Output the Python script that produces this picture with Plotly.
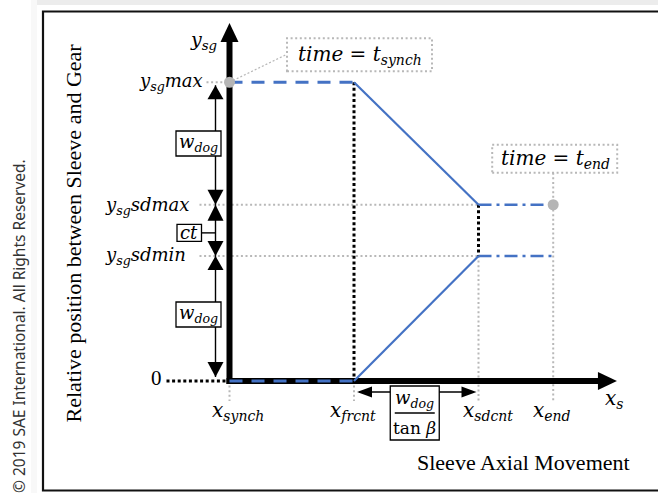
import plotly.graph_objects as go

W, H = 658, 493

# ---------------- data (diagram levels, in model units) ----------------
x_names = ["synch", "frcnt", "sdcnt", "end"]
x_pos = [0.0, 1.0, 2.0, 2.6]                 # sleeve axial positions
y_names = ["0", "sdmin", "sdmax", "max"]
y_pos = [0.0, 1.0, 1.41, 2.39]               # relative sleeve/gear positions
axis_x_tip = 3.112
axis_y_tip = 2.864

# blue profile (upper and lower edge)
upper_x = [0.0, 1.0, 2.0, 2.6]
upper_y = [2.39, 2.39, 1.41, 1.41]
lower_x = [0.0, 1.0, 2.0, 2.6]
lower_y = [0.0, 0.0, 1.0, 1.0]

x_tick_labels = ["<i>x</i><sub><i>synch</i></sub>", "<i>x</i><sub><i>frcnt</i></sub>",
                 "<i>x</i><sub><i>sdcnt</i></sub>", "<i>x</i><sub><i>end</i></sub>"]
y_tick_labels = ["0", "<i>y</i><sub><i>sg</i></sub><i>sdmin</i>",
                 "<i>y</i><sub><i>sg</i></sub><i>sdmax</i>", "<i>y</i><sub><i>sg</i></sub><i>max</i>"]

# ---------------- scale (pixels per unit) ----------------
SX, SY = 124.5, 125.0
OX, OY = 229.5, 381.0
xr = [-OX / SX, (W - OX) / SX]
yr = [-(H - OY) / SY, OY / SY]


def ox(p):
    return p / SX


def oy(p):
    return p / SY


x_synch, x_frcnt, x_sdcnt, x_end = x_pos
y0, y_sdmin, y_sdmax, y_max = y_pos

BLUE = "#4472C4"
GRAY = "#b8b8b8"
MATH = "DejaVu Serif"
SERIF = "Liberation Serif"
shapes = []


def line(x0, yy0, x1, yy1, color="black", width=1.5, dash=None, layer="below"):
    shapes.append(dict(type="line", x0=x0, y0=yy0, x1=x1, y1=yy1, layer=layer,
                       line=dict(color=color, width=width, dash=dash)))


def rect(x0, yy0, x1, yy1, lc="black", lw=1.3, fill="white", dash=None, layer="below"):
    shapes.append(dict(type="rect", x0=x0, y0=yy0, x1=x1, y1=yy1, layer=layer,
                       fillcolor=fill, line=dict(color=lc, width=lw, dash=dash)))


def tri(tx, ty, direction, length_px, width_px):
    if direction == "up":
        pts = [(tx, ty), (tx - ox(width_px / 2), ty - oy(length_px)), (tx + ox(width_px / 2), ty - oy(length_px))]
    elif direction == "down":
        pts = [(tx, ty), (tx - ox(width_px / 2), ty + oy(length_px)), (tx + ox(width_px / 2), ty + oy(length_px))]
    elif direction == "right":
        pts = [(tx, ty), (tx - ox(length_px), ty + oy(width_px / 2)), (tx - ox(length_px), ty - oy(width_px / 2))]
    else:
        pts = [(tx, ty), (tx + ox(length_px), ty + oy(width_px / 2)), (tx + ox(length_px), ty - oy(width_px / 2))]
    path = "M " + " L ".join(f"{a},{b}" for a, b in pts) + " Z"
    shapes.append(dict(type="path", path=path, fillcolor="black", line=dict(width=0), layer="below"))


# page decoration (card shadow + frame)
shapes.append(dict(type="rect", xref="paper", yref="paper", x0=37 / W, x1=1, y0=1 - 5 / H, y1=1,
                   fillcolor="#ececec", line=dict(width=0), layer="below"))
shapes.append(dict(type="rect", xref="paper", yref="paper", x0=31 / W, x1=37 / W, y0=0, y1=1,
                   fillcolor="#f8f8f8", line=dict(width=0), layer="below"))
shapes.append(dict(type="rect", xref="paper", yref="paper", x0=43 / W, x1=1.02, y0=1 - 490.5 / H,
                   y1=1 - 11.5 / H, fillcolor="rgba(0,0,0,0)", line=dict(color="#111", width=2.2),
                   layer="below"))

GD = "2px,2.6px"
# gray dotted guide lines
line(x_synch - ox(23), y_max, x_synch, y_max, GRAY, 2, GD)
line(x_synch - ox(30), y_sdmax, x_sdcnt, y_sdmax, GRAY, 2, GD)
line(x_synch - ox(30), y_sdmin, x_sdcnt, y_sdmin, GRAY, 2, GD)
line(x_synch, y0, x_synch, y0 - oy(20), GRAY, 2, GD)
line(x_frcnt, y0, x_frcnt, y0 - oy(20), GRAY, 2, GD)
line(x_sdcnt, y_sdmin, x_sdcnt, y0 - oy(20), GRAY, 2, GD)
line(x_end, y_sdmax + oy(32), x_end, y0 - oy(20), GRAY, 2, GD)
line(x_synch, y_max, x_synch + ox(57.5), y_max + oy(28), GRAY, 1.2, "2px,2px")

# black dotted lines
BD = "3px,2.6px"
line(x_frcnt, y_max, x_frcnt, y0, "black", 3, BD)
line(x_sdcnt, y_sdmax, x_sdcnt, y_sdmin, "black", 3, BD)
line(x_synch - ox(63), y0, x_synch - ox(3), y0, "black", 3, BD)

# main axes
line(x_synch, y0 - oy(3), x_synch, axis_y_tip - oy(17), "black", 6)
tri(x_synch, axis_y_tip, "up", 19, 18)
line(x_synch - ox(3), y0, axis_x_tip - ox(17), y0, "black", 6)
tri(axis_x_tip, y0, "right", 19, 18)

# vertical dimension arrows (w_dog, ct, w_dog)
DX = x_synch - ox(14)
line(DX, y_max - oy(3), DX, y0 + oy(4), "black", 1.4)
tri(DX, y_max - oy(3), "up", 14, 16)
tri(DX, y_sdmax, "down", 15, 16)
tri(DX, y_sdmax, "up", 16, 16)
tri(DX, y_sdmin, "down", 15, 16)
tri(DX, y_sdmin, "up", 14, 16)
tri(DX, y0 + oy(4), "down", 15, 16)

wd1 = (y_max + y_sdmax) / 2
wd2 = (y_sdmin + y0) / 2 + oy(4)
ctm = (y_sdmax + y_sdmin) / 2 - oy(2.5)
BXL, BXR = x_synch - ox(53.5), x_synch - ox(8.5)
rect(BXL, wd1 - oy(12.5), BXR, wd1 + oy(12.5))
rect(BXL, wd2 - oy(12.5), BXR, wd2 + oy(12.5))
line(x_synch - ox(28), ctm, DX, ctm, "black", 1.4)
rect(x_synch - ox(52.5), ctm - oy(8.5), x_synch - ox(28), ctm + oy(8.5))

# horizontal dimension (w_dog / tan beta)
HY = y0 - oy(11)
line(x_frcnt + ox(5), HY, x_sdcnt - ox(5), HY, "black", 1.4)
tri(x_frcnt + ox(3), HY, "left", 15, 11)
tri(x_sdcnt - ox(2), HY, "right", 15, 11)
fm = (x_frcnt + x_sdcnt) / 2 - ox(1.5)
rect(fm - ox(24.5), y0 - oy(59), fm + ox(24.5), y0 - oy(5))
line(fm - ox(20), y0 - oy(32), fm + ox(20), y0 - oy(32), "black", 1.3)

# time callout boxes
rect(x_synch + ox(57.5), y_max + oy(11), x_synch + ox(202.5), y_max + oy(44), GRAY, 2, "rgba(0,0,0,0)", GD)
rect(x_end - ox(61), y_sdmax + oy(32), x_end + ox(64), y_sdmax + oy(60), GRAY, 2, "rgba(0,0,0,0)", GD)

fig = go.Figure()

# blue profile traces
fig.add_trace(go.Scatter(x=upper_x[0:2], y=upper_y[0:2], mode="lines",
                         line=dict(color=BLUE, width=3, dash="13px,9px"), hoverinfo="skip"))
fig.add_trace(go.Scatter(x=upper_x[1:3], y=upper_y[1:3], mode="lines",
                         line=dict(color=BLUE, width=2.2), hoverinfo="skip"))
fig.add_trace(go.Scatter(x=upper_x[2:4], y=upper_y[2:4], mode="lines",
                         line=dict(color=BLUE, width=2.6, dash="13px,5px,3px,5px"), hoverinfo="skip"))
fig.add_trace(go.Scatter(x=lower_x[0:2], y=lower_y[0:2], mode="lines",
                         line=dict(color=BLUE, width=3, dash="13px,9px"), hoverinfo="skip"))
fig.add_trace(go.Scatter(x=lower_x[1:3], y=lower_y[1:3], mode="lines",
                         line=dict(color=BLUE, width=2.2), hoverinfo="skip"))
fig.add_trace(go.Scatter(x=lower_x[2:4], y=lower_y[2:4], mode="lines",
                         line=dict(color=BLUE, width=2.6, dash="13px,5px,3px,5px"), hoverinfo="skip"))
# event markers
fig.add_trace(go.Scatter(x=[x_synch, x_end], y=[y_max, y_sdmax], mode="markers",
                         marker=dict(color="#b5b5b5", size=11), hoverinfo="skip"))

ann = []


def text(x, y, s, size=18, xanchor="center", xs=0, ys=0, family=MATH, color="black", angle=0):
    ann.append(dict(x=x, y=y, text=s, showarrow=False, xanchor=xanchor, yanchor="middle",
                    xshift=xs, yshift=ys, textangle=angle,
                    font=dict(family=family, size=size, color=color)))


# y labels
text(x_synch, axis_y_tip, "<i>y</i><sub><i>sg</i></sub>", xanchor="right", xs=-11, ys=-17, size=19)
y_shift = {"0": (-66, 3), "sdmin": (-42, 0), "sdmax": (-39, -1), "max": (-25, 0)}
for n, yv, lab in zip(y_names, y_pos, y_tick_labels):
    xs_, ys_ = y_shift[n]
    text(x_synch, yv, lab, xanchor="right", xs=xs_, ys=ys_,
         family=MATH if n != "0" else SERIF, size=18 if n != "0" else 21)
# x labels
x_shift = {"synch": 8, "frcnt": -1, "sdcnt": 9, "end": -1}
for n, xv, lab in zip(x_names, x_pos, x_tick_labels):
    text(xv, y0, lab, xs=x_shift[n], ys=-30, size=20)
text(axis_x_tip, y0, "<i>x</i><sub><i>s</i></sub>", xs=-3, ys=-18, size=20)

# dimension labels
text(BXL, wd1, "<i>w</i><sub><i>dog</i></sub>", xs=22.5, ys=1, size=18)
text(BXL, wd2, "<i>w</i><sub><i>dog</i></sub>", xs=22.5, ys=1, size=18)
text(x_synch - ox(52.5), ctm, "<i>ct</i>", xs=12, ys=0, size=18)
text(fm, y0, "<i>w</i><sub><i>dog</i></sub>", ys=-18, size=18)
text(fm, y0, "tan <i>β</i>", ys=-47, size=17)

# callouts
text(x_synch, y_max, "<i>time</i> = <i>t</i><sub><i>synch</i></sub>", xs=130.5, ys=27, size=20)
text(x_end, y_sdmax, "<i>time</i> = <i>t</i><sub><i>end</i></sub>", xs=2, ys=46, size=20)

# axis titles
ann.append(dict(xref="paper", yref="paper", x=73 / W, y=1 - 233.5 / H, showarrow=False,
                xanchor="center", yanchor="middle",
                text="Relative position between Sleeve and Gear", textangle=-90,
                font=dict(family=SERIF, size=22, color="black")))
ann.append(dict(xref="paper", yref="paper", x=523 / W, y=1 - 462 / H, showarrow=False,
                xanchor="center", yanchor="middle",
                text="Sleeve Axial Movement",
                font=dict(family=SERIF, size=22, color="black")))
ann.append(dict(xref="paper", yref="paper", x=19 / W, y=1 - 326 / H, showarrow=False,
                xanchor="center", yanchor="middle",
                text="© 2019 SAE International. All Rights Reserved.", textangle=-90,
                font=dict(family="Noto Sans", size=15.5, color="#333333")))

fig.update_layout(
    width=W, height=H, margin=dict(l=0, r=0, t=0, b=0, pad=0),
    paper_bgcolor="white", plot_bgcolor="white", showlegend=False,
    xaxis=dict(range=xr, visible=False, fixedrange=True),
    yaxis=dict(range=yr, visible=False, fixedrange=True),
    shapes=shapes, annotations=ann,
)
fig.write_html("out.html")
